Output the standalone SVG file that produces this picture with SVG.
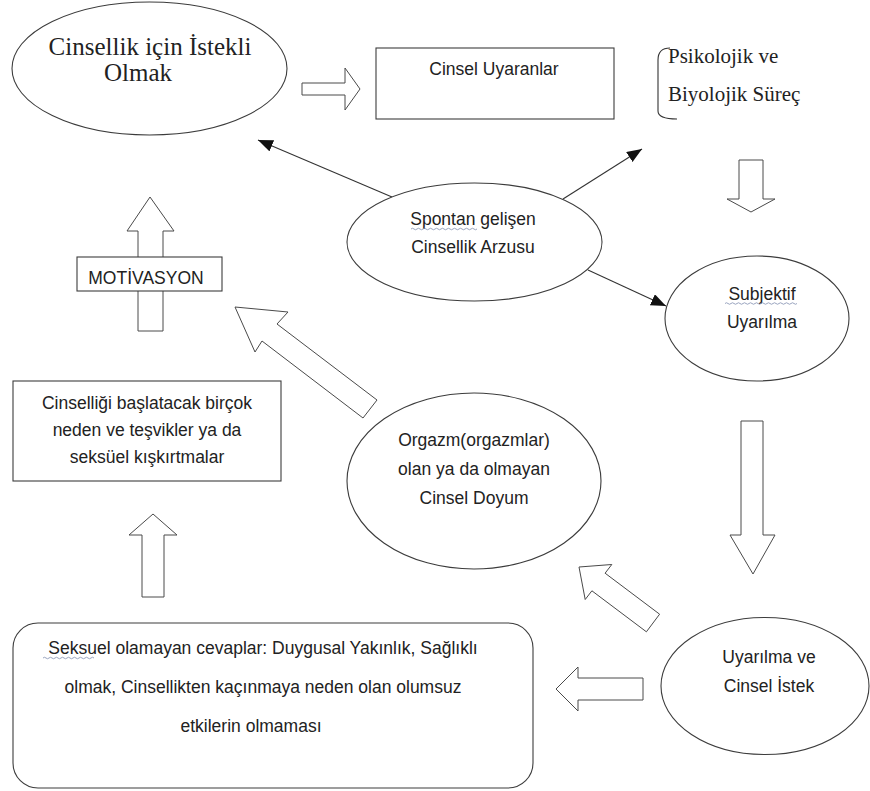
<svg xmlns="http://www.w3.org/2000/svg" width="870" height="791" viewBox="0 0 870 791">
<style>
.shape{fill:#fff;stroke:#3c3c3c;stroke-width:1.1}
.harrow{fill:#fff;stroke:#4a4a4a;stroke-width:1}
.line{fill:none;stroke:#333;stroke-width:1.1}
.sans{font-family:"Liberation Sans",Arial,sans-serif;font-size:17.5px;fill:#222}
.serif{font-family:"Liberation Serif","Times New Roman",serif;fill:#222}
.squig{fill:none;stroke:#8e9bb8;stroke-width:0.9}
</style>
<defs>
<marker id="tri" markerUnits="userSpaceOnUse" markerWidth="16" markerHeight="14" refX="15" refY="6" orient="auto">
<path d="M0,0 L15,6 L0,12 Z" fill="#111"/>
</marker>
</defs>
<rect width="870" height="791" fill="#fff"/>
<g id="connectors">
<line class="line" x1="392" y1="197" x2="258" y2="140" marker-end="url(#tri)"/>
<line class="line" x1="563" y1="199" x2="642" y2="149" marker-end="url(#tri)"/>
<line class="line" x1="588" y1="270" x2="666" y2="306" marker-end="url(#tri)"/>
<polygon class="harrow" points="302,83 345,83 345,68 360,89 345,110 345,95 302,95"/>
<polygon class="harrow" points="739,160 763,160 763,199 775,199 751,212 727,199 739,199"/>
<polygon class="harrow" points="741,421 763,421 763,535 775,535 753,574 730,535 741,535"/>
<polygon class="harrow" points="643,678 578,678 578,667 556,689 578,711 578,700 643,700"/>
<polygon class="harrow" points="579,567 611.8,564.5 605.1,573.2 659.6,614.2 646.4,631.8 591.9,590.8 585.2,599.5"/>
<polygon class="harrow" points="235,307 288,312 277,324 377,400 363,418 262,341 255,352"/>
<polygon class="harrow" points="138,331 138,231 127,231 150,197 174,231 163,231 163,331"/>
<polygon class="harrow" points="142,597 142,535 129,535 153,514 177,535 164,535 164,597"/>
</g>
<g id="node-istekli">
<ellipse class="shape" cx="149.5" cy="68.5" rx="137.5" ry="66.5"/>
<text class="serif" font-size="25" x="150" y="55" text-anchor="middle">Cinsellik için İstekli</text>
<text class="serif" font-size="25" x="138" y="81" text-anchor="middle">Olmak</text>
</g>
<g id="node-uyaranlar">
<rect class="shape" x="376" y="48" width="238" height="71"/>
<text class="sans" x="494" y="75" text-anchor="middle">Cinsel Uyaranlar</text>
</g>
<g id="node-surec">
<path class="line" d="M670,48 Q658,48 658,60 L658,111 Q658,119 677,119"/>
<text class="serif" font-size="21" x="668" y="63">Psikolojik ve</text>
<text class="serif" font-size="21" x="668" y="101">Biyolojik Süreç</text>
</g>
<g id="node-spontan">
<ellipse class="shape" cx="474.5" cy="242" rx="127.5" ry="59"/>
<text class="sans" x="473" y="225" text-anchor="middle">Spontan gelişen</text>
<text class="sans" x="473" y="253" text-anchor="middle">Cinsellik Arzusu</text>
<path class="squig" d="M411,229 q1.5,-1.5 3,0 t3,0 t3,0 t3,0 t3,0 t3,0 t3,0 t3,0 t3,0 t3,0 t3,0 t3,0 t3,0 t3,0 t3,0 t3,0 t3,0 t3,0 t3,0 t3,0 t3,0 t3,0"/>
</g>
<g id="node-subjektif">
<ellipse class="shape" cx="757" cy="318.5" rx="92" ry="62.5"/>
<text class="sans" x="762" y="300" text-anchor="middle">Subjektif</text>
<text class="sans" x="762" y="328" text-anchor="middle">Uyarılma</text>
<path class="squig" d="M725,303.5 q1.5,-1.5 3,0 t3,0 t3,0 t3,0 t3,0 t3,0 t3,0 t3,0 t3,0 t3,0 t3,0 t3,0 t3,0 t3,0 t3,0 t3,0 t3,0 t3,0 t3,0 t3,0 t3,0 t3,0 t3,0 t3,0"/>
</g>
<g id="node-motivasyon">
<rect class="shape" x="77" y="257" width="145" height="34"/>
<text class="sans" x="146" y="284" text-anchor="middle">MOTİVASYON</text>
</g>
<g id="node-nedenler">
<rect class="shape" x="13" y="381" width="268" height="100"/>
<text class="sans" x="147" y="409" text-anchor="middle">Cinselliği başlatacak birçok</text>
<text class="sans" x="147" y="436" text-anchor="middle">neden ve teşvikler ya da</text>
<text class="sans" x="147" y="463" text-anchor="middle">seksüel kışkırtmalar</text>
</g>
<g id="node-orgazm">
<ellipse class="shape" cx="474" cy="481" rx="127" ry="88"/>
<text class="sans" x="474" y="446" text-anchor="middle">Orgazm(orgazmlar)</text>
<text class="sans" x="474" y="475" text-anchor="middle">olan ya da olmayan</text>
<text class="sans" x="474" y="504" text-anchor="middle">Cinsel Doyum</text>
</g>
<g id="node-uyarilma-istek">
<ellipse class="shape" cx="765" cy="686" rx="104" ry="68.5"/>
<text class="sans" x="769" y="663" text-anchor="middle">Uyarılma ve</text>
<text class="sans" x="769" y="692" text-anchor="middle">Cinsel İstek</text>
</g>
<g id="node-seksuel-olmayan">
<rect class="shape" x="13" y="623" width="520" height="165" rx="25" ry="25"/>
<text class="sans" x="263" y="654" text-anchor="middle">Seksuel olamayan cevaplar: Duygusal Yakınlık, Sağlıklı</text>
<text class="sans" x="263" y="693" text-anchor="middle">olmak, Cinsellikten kaçınmaya neden olan olumsuz</text>
<text class="sans" x="251" y="732" text-anchor="middle">etkilerin olmaması</text>
<path class="squig" d="M43,658 q1.5,-1.5 3,0 t3,0 t3,0 t3,0 t3,0 t3,0 t3,0 t3,0 t3,0 t3,0 t3,0 t3,0 t3,0 t3,0 t3,0 t3,0 t3,0"/>
</g>
</svg>
